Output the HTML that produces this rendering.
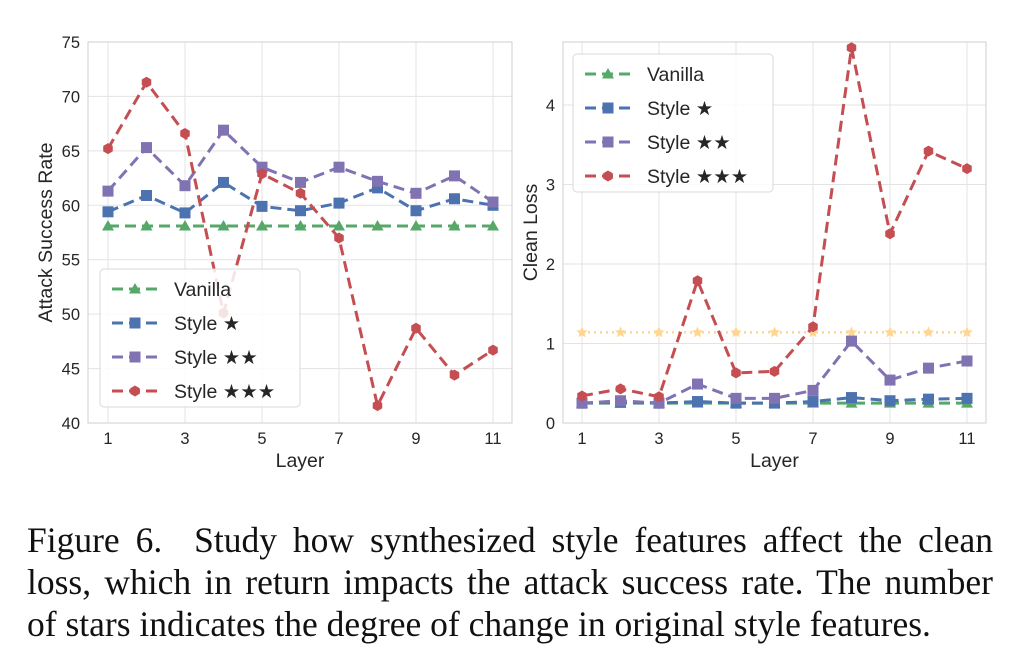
<!DOCTYPE html>
<html><head><meta charset="utf-8"><style>
body{margin:0;background:#fff;width:1030px;height:665px;overflow:hidden}
svg text{font-family:"Liberation Sans",sans-serif;fill:#262626}
.cap{position:absolute;left:27px;top:519px;width:966px;font-family:"Liberation Serif",serif;font-size:35.5px;line-height:42px;color:#111}
.cap div{white-space:nowrap;text-align:justify;text-align-last:justify}
.cap div.last{text-align:left;text-align-last:left}
</style></head><body>
<svg id="c" width="1030" height="520" style="position:absolute;left:0;top:0"></svg>
<div class="cap"><div>Figure 6.&nbsp; Study how synthesized style features affect the clean</div><div>loss, which in return impacts the attack success rate. The number</div><div class="last">of stars indicates the degree of change in original style features.</div></div>
<script>
const layers=[1,2,3,4,5,6,7,8,9,10,11];
const asrVanilla=[58.1,58.1,58.1,58.1,58.1,58.1,58.1,58.1,58.1,58.1,58.1];
const asrStyle1=[59.4,60.9,59.3,62.1,59.9,59.5,60.2,61.6,59.5,60.6,60.0];
const asrStyle2=[61.3,65.3,61.8,66.9,63.5,62.1,63.5,62.2,61.1,62.7,60.3];
const asrStyle3=[65.2,71.3,66.6,50.1,62.9,61.1,57.0,41.6,48.7,44.4,46.7];
const lossVanilla=[0.25,0.25,0.25,0.25,0.25,0.25,0.25,0.25,0.25,0.25,0.25];
const lossStyle1=[0.25,0.26,0.25,0.27,0.25,0.25,0.27,0.32,0.28,0.30,0.31];
const lossStyle2=[0.25,0.28,0.25,0.49,0.31,0.31,0.41,1.03,0.54,0.69,0.78];
const lossStyle3=[0.34,0.43,0.33,1.79,0.63,0.65,1.21,4.72,2.38,3.42,3.20];
const lossBaseline=[1.14,1.14,1.14,1.14,1.14,1.14,1.14,1.14,1.14,1.14,1.14];
const xTicks=[1,3,5,7,9,11];
const asrTicks=[40,45,50,55,60,65,70,75];
const lossTicks=[0,1,2,3,4];
const NS='http://www.w3.org/2000/svg';
const svg=document.getElementById('c');
function mk(t,a,p){const e=document.createElementNS(NS,t);for(const k in a)e.setAttribute(k,a[k]);(p||svg).appendChild(e);return e;}
const C={g:'#55a868',b:'#4c72b0',p:'#8172b2',r:'#c44e52',y:'#ffd590'};
function star(cx,cy,r){let s='';for(let i=0;i<10;i++){const a=-Math.PI/2+i*Math.PI/5,rr=i%2?r*0.45:r;s+=(i?'L':'M')+(cx+rr*Math.cos(a)).toFixed(1)+' '+(cy+rr*Math.sin(a)).toFixed(1);}return s+'Z';}
function marker(g,type,x,y,col){
 if(type==='tri')mk('path',{d:`M${x} ${y-6}L${x+6} ${y+4.5}L${x-6} ${y+4.5}Z`,fill:col},g);
 else if(type==='sq')mk('rect',{x:x-5.5,y:y-5.5,width:11,height:11,fill:col},g);
 else if(type==='hex'){let s='';for(let i=0;i<6;i++){const a=-Math.PI/2+i*Math.PI/3;s+=(i?'L':'M')+(x+5.5*Math.cos(a))+' '+(y+5.5*Math.sin(a));}mk('path',{d:s+'Z',fill:col},g);}
 else mk('path',{d:star(x,y,6),fill:col},g);
}
function panel(o){
 const X=v=>o.x1+(v-1)*(o.x11-o.x1)/10, Y=v=>o.y0+(v-o.v0)*(o.yTop-o.y0)/(o.vTop-o.v0);
 const g=mk('g',{});
 for(const t of o.yt){mk('line',{x1:o.L,x2:o.R,y1:Y(t),y2:Y(t),stroke:'#e3e3e3','stroke-width':1},g);
  const tx=mk('text',{x:o.L-8,y:Y(t)+6,'text-anchor':'end','font-size':16.5},g);tx.textContent=t;}
 for(const t of xTicks){mk('line',{x1:X(t),x2:X(t),y1:o.T,y2:o.B,stroke:'#e3e3e3'},g);
  const tx=mk('text',{x:X(t),y:o.B+21,'text-anchor':'middle','font-size':16.5},g);tx.textContent=t;}
 mk('rect',{x:o.L,y:o.T,width:o.R-o.L,height:o.B-o.T,fill:'none',stroke:'#cfcfcf'},g);
 const xl=mk('text',{x:(o.L+o.R)/2,y:o.B+44,'text-anchor':'middle','font-size':19.5},g);xl.textContent='Layer';
 const yl=mk('text',{x:0,y:0,'text-anchor':'middle','font-size':19.5,transform:`translate(${o.ylx},${(o.T+o.B)/2}) rotate(-90)`},g);yl.textContent=o.ylab;
 for(const s of o.series){
  const sg=mk('g',{},g);
  const pts=s.d.map((v,i)=>X(layers[i])+','+Y(v)).join(' ');
  mk('polyline',{points:pts,fill:'none',stroke:s.c,'stroke-width':s.dot?2.5:3,'stroke-dasharray':s.dot?'2 4':'11 6'},sg);
  s.d.forEach((v,i)=>marker(sg,s.m,X(layers[i]),Y(v),s.c));
 }
 const lg=mk('g',{},g);
 mk('rect',{x:o.lx,y:o.ly,width:200,height:138,rx:4,fill:'rgba(255,255,255,0.85)',stroke:'#d8d8d8'},lg);
 const labs=['Vanilla','Style ★','Style ★★','Style ★★★'],ms=['tri','sq','sq','hex'],cs=[C.g,C.b,C.p,C.r];
 labs.forEach((l,i)=>{const yy=o.ly+20+i*34;
  const eg=mk('g',{},lg);
  mk('line',{x1:o.lx+12,x2:o.lx+58,y1:yy,y2:yy,stroke:cs[i],'stroke-width':3,'stroke-dasharray':'11 6'},eg);
  marker(eg,ms[i],o.lx+35,yy,cs[i]);
  const t=mk('text',{x:o.lx+74,y:yy+7,'font-size':19.5},eg);t.textContent=l;});
}
panel({name:'asr-chart',L:88,R:512,T:42,B:423,x1:108,x11:493,y0:423,v0:40,yTop:42,vTop:75,yt:asrTicks,ylab:'Attack Success Rate',ylx:52,lx:100,ly:269,
 series:[{n:'series-vanilla',d:asrVanilla,c:C.g,m:'tri'},{n:'series-style1',d:asrStyle1,c:C.b,m:'sq'},{n:'series-style2',d:asrStyle2,c:C.p,m:'sq'},{n:'series-style3',d:asrStyle3,c:C.r,m:'hex'}]});
panel({name:'clean-loss-chart',L:563,R:986,T:42,B:423,x1:582,x11:967,y0:423,v0:0,yTop:343.5,vTop:1,yt:lossTicks,ylab:'Clean Loss',ylx:537,lx:573,ly:54,
 series:[{n:'series-baseline',d:lossBaseline,c:C.y,m:'star',dot:true},{n:'series-vanilla',d:lossVanilla,c:C.g,m:'tri'},{n:'series-style1',d:lossStyle1,c:C.b,m:'sq'},{n:'series-style2',d:lossStyle2,c:C.p,m:'sq'},{n:'series-style3',d:lossStyle3,c:C.r,m:'hex'}]});
</script>
</body></html>
